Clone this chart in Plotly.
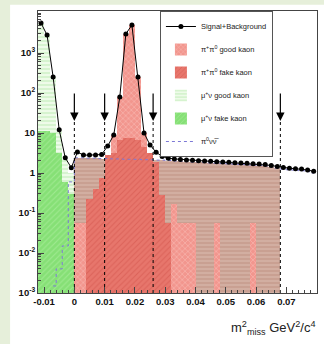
import math
import plotly.graph_objects as go

# ---------------- data ----------------
bin_centers = [-0.011, -0.009, -0.007, -0.005, -0.003, -0.001,
               0.001, 0.003, 0.005, 0.007, 0.009, 0.011, 0.013, 0.015, 0.017, 0.019,
               0.021, 0.023, 0.025, 0.027, 0.029, 0.031, 0.033, 0.035, 0.037, 0.039,
               0.041, 0.043, 0.045, 0.047, 0.049, 0.051, 0.053, 0.055, 0.057, 0.059,
               0.061, 0.063, 0.065, 0.067, 0.069, 0.071, 0.073, 0.075, 0.077, 0.079]

signal_bkg = [5600, 2800, 250, 12, 2.4, 1.35,
              3.35, 2.8, 2.8, 2.8, 2.9, 4.7, 8.9, 79, 3000, 5000,
              250, 10, 5.0, 3.3, 2.6, 2.35, 2.25, 2.18, 2.11, 2.07,
              2.03, 2.0, 1.96, 1.92, 1.88, 1.85, 1.81, 1.78, 1.75, 1.71,
              1.68, 1.62, 1.55, 1.45, 1.37, 1.32, 1.28, 1.25, 1.19, 1.1]

mu_good = [5600, 2800, 250, 12, 2.2, 1.0] + [None] * 40
mu_fake = [11, 11, 10, 3.2, 0.6, 0.3] + [None] * 40

pp_good = [None] * 6 + [0.055, 0.055, None, None, None, 0.9, 8.9, 79, 3000, 5000,
                        250, 10, 2.0, None, None, None, 0.17, 0.055, 0.055, 0.055,
                        None, None, None, 0.055, None, None, None, None, None, 0.055,
                        None, None, None, None, None, None, None, None, None, None]

pp_fake = [None] * 6 + [None, None, 0.22, 0.4, 0.75, 2.8, 3.2, 6.5, 7.5, 7.5,
                        6.5, 4.5, 3.2, 1.9, 0.28, 0.055, None, None, None, None,
                        None, None, None, None, None, None, None, None, None, None,
                        None, None, None, None, None, None, None, None, None, None]

pnn = [None, None, 0.0015, 0.004, 0.015, 0.6,
       2.4, 2.4, 2.35, 2.35, 2.3, 2.3, 2.25, 2.25, 2.2, 2.2,
       2.2, 2.15, 2.15, 2.1, 2.1, 2.05, 2.0, 1.95, 1.92, 1.88,
       1.85, 1.82, 1.78, 1.75, 1.72, 1.69, 1.66, 1.63, 1.6, 1.57,
       1.54, 1.49, 1.42, 1.33, 1.25, 1.2, 1.17, 1.14, 1.08, 1.0]

signal_window = [0.0, 0.068]
cut_positions = [0.0, 0.01, 0.026, 0.068]
cut_arrow_tip = 20

x_ticks = [-0.01, 0.0, 0.01, 0.02, 0.03, 0.04, 0.05, 0.06, 0.07, 0.08]
x_tick_text = ["-0.01", "0", "0.01", "0.02", "0.03", "0.04", "0.05", "0.06", "0.07", "0.08"]
y_ticks = [1e-3, 1e-2, 1e-1, 1, 10, 100, 1000]
y_tick_text = ["10<sup>-3</sup>", "10<sup>-2</sup>", "10<sup>-1</sup>", "1", "10",
               "10<sup>2</sup>", "10<sup>3</sup>"]

BIN_W = 0.002


def bar_trace(vals, name, base_col, fg_col, shape, rank, show=True, xmask=None):
    xs, ys = [], []
    for c, v in zip(bin_centers, vals):
        if v is None:
            continue
        if xmask is not None and not (xmask[0] < c < xmask[1]):
            continue
        xs.append(c)
        ys.append(v)
    return go.Bar(
        x=xs, y=ys, width=BIN_W, name=name, legendrank=rank, showlegend=show,
        legendgroup=name,
        marker=dict(color=base_col, line=dict(width=0),
                    pattern=dict(shape=shape, fgcolor=fg_col, size=4, solidity=0.25,
                                 fillmode="overlay")),
    )


fig = go.Figure()

fig.add_trace(bar_trace(mu_good, "\u03bc<sup>+</sup>\u03bd good kaon", "#eefbe9", "#8fdc80", "-", 4))
fig.add_trace(bar_trace(mu_fake, "\u03bc<sup>+</sup>\u03bd fake kaon", "#86e076", "#b9f2ad", "/", 5))
fig.add_trace(bar_trace(pnn, "pnn region", "#c9a092", "#ead8d0", "-", 9, show=False,
                        xmask=signal_window))
fig.add_trace(bar_trace(pp_good, "\u03c0<sup>+</sup>\u03c0<sup>0</sup> good kaon", "#f2968e", "#fde2de", "x", 2))
fig.add_trace(bar_trace(pp_fake, "\u03c0<sup>+</sup>\u03c0<sup>0</sup> fake kaon", "#e7766c", "#cf4f47", "/", 3))

# pi0 nu nubar step line
px = [c for c, v in zip(bin_centers, pnn) if v is not None]
py = [v for v in pnn if v is not None]
fig.add_trace(go.Scatter(x=px, y=py, mode="lines", line=dict(color="#7d79d6", width=1, dash="dot", shape="hvh"),
                         name="\u03c0<sup>0</sup>\u03bd\u03bd\u0305", legendrank=6, legendgroup="pnn"))

# cut lines (dotted) below arrows
for xc in cut_positions:
    fig.add_trace(go.Scatter(x=[xc, xc], y=[1e-3, cut_arrow_tip], mode="lines",
                             line=dict(color="black", width=1, dash="dot"), showlegend=False,
                             hoverinfo="skip"))

fig.add_trace(go.Scatter(x=bin_centers, y=signal_bkg, mode="lines+markers",
                         line=dict(color="black", width=1),
                         marker=dict(color="black", size=5),
                         name="Signal+Background", legendrank=1, legendgroup="sb"))

for xc in cut_positions:
    fig.add_annotation(x=xc, y=math.log10(cut_arrow_tip), ax=0, ay=-29, text="",
                       showarrow=True, arrowhead=2, arrowsize=1.4, arrowwidth=1.2,
                       arrowcolor="black")

fig.add_annotation(xref="paper", yref="paper", x=1.0, y=-0.085, xanchor="right", yanchor="top",
                   text="m<sup>2</sup><sub>miss</sub> GeV<sup>2</sup>/c<sup>4</sup>",
                   showarrow=False, font=dict(family="Liberation Sans, Arial", size=13, color="#222"))

# white slide panel over light green background
fig.add_shape(type="rect", xref="paper", yref="paper", x0=-0.1, x1=1.05, y0=-0.3, y1=1.022,
              fillcolor="white", line=dict(width=0), layer="below")

axis_font = dict(family="Liberation Sans, Arial", size=9.5, color="#111", weight="bold")

fig.update_layout(
    width=324, height=344,
    margin=dict(l=38, r=7, t=11, b=51),
    paper_bgcolor="#e6efda",
    plot_bgcolor="white",
    barmode="overlay",
    bargap=0,
    showlegend=True,
    legend=dict(x=0.437, y=1.0, xanchor="left", yanchor="top",
                bgcolor="white", bordercolor="#555", borderwidth=1,
                font=dict(family="Liberation Sans, Arial", size=7.5, color="#222"),
                tracegroupgap=4, itemwidth=30),
    xaxis=dict(range=[-0.012, 0.0801], showgrid=False, zeroline=False,
               showline=True, linecolor="#444", linewidth=1, mirror=True,
               tickvals=x_ticks, ticktext=x_tick_text, ticks="inside", ticklen=6,
               tickcolor="#444", tickfont=axis_font,
               minor=dict(ticks="inside", ticklen=3, dtick=0.002, tick0=0, tickcolor="#444")),
    yaxis=dict(type="log", range=[-3, 4.05], showgrid=False, zeroline=False,
               showline=True, linecolor="#444", linewidth=1, mirror=True,
               tickvals=y_ticks, ticktext=y_tick_text, ticks="inside", ticklen=6,
               tickcolor="#444", tickfont=axis_font,
               minor=dict(ticks="inside", ticklen=3, dtick="D1", tickcolor="#444")),
)

fig.write_html("out.html", config={"displayModeBar": False},
               post_script="document.body.style.margin='0';")
